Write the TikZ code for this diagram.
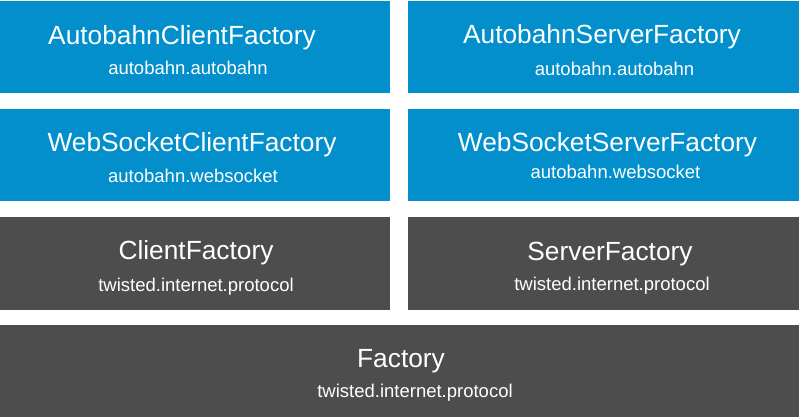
\documentclass[tikz,border=0pt]{standalone}
\usepackage{fontspec}
\setmainfont{Liberation Sans}
\definecolor{abblue}{HTML}{038FCB}
\definecolor{twgray}{HTML}{4D4D4D}

\begin{document}
\begin{tikzpicture}[x=1pt,y=-1pt,
    box/.style={rectangle,inner sep=0pt,minimum height=92pt},
    bluebox/.style={box,fill=abblue},
    graybox/.style={box,fill=twgray},
    classname/.style={anchor=base,inner sep=0pt,text=white,font=\fontsize{26.3}{30}\selectfont},
    modname/.style={anchor=base,inner sep=0pt,text=white,font=\fontsize{18.5}{22}\selectfont}]

    \useasboundingbox (0,0) rectangle (800,418);

    % autobahn layer
    \node[bluebox,minimum width=390pt] (acf) at (195,47) {};
    \node[bluebox,minimum width=391pt] (asf) at (603.5,47) {};
    \node[classname] (acfname) at (182,44) {AutobahnClientFactory};
    \node[modname] (acfmod) at (188,74) {autobahn.autobahn};
    \node[classname] (asfname) at (602,43.5) {AutobahnServerFactory};
    \node[modname] (asfmod) at (614.5,75) {autobahn.autobahn};

    % websocket layer
    \node[bluebox,minimum width=390pt] (wcf) at (195,155) {};
    \node[bluebox,minimum width=391pt] (wsf) at (603.5,155) {};
    \node[classname] (wcfname) at (192,151.5) {WebSocketClientFactory};
    \node[modname] (wcfmod) at (193,182) {autobahn.websocket};
    \node[classname] (wsfname) at (607.5,151) {WebSocketServerFactory};
    \node[modname] (wsfmod) at (615.5,178) {autobahn.websocket};

    % twisted layer
    \node[graybox,minimum width=390pt,minimum height=93pt] (cf) at (195,263.5) {};
    \node[graybox,minimum width=391pt,minimum height=93pt] (sf) at (603.5,263.5) {};
    \node[classname] (cfname) at (196,259.5) {ClientFactory};
    \node[modname] (cfmod) at (196,291) {twisted.internet.protocol};
    \node[classname] (sfname) at (610,260.5) {ServerFactory};
    \node[modname] (sfmod) at (612,290) {twisted.internet.protocol};

    \node[graybox,minimum width=799pt] (f) at (399.5,371) {};
    \node[classname] (fname) at (401,367) {Factory};
    \node[modname] (fmod) at (415,397) {twisted.internet.protocol};
\end{tikzpicture}
\end{document}
